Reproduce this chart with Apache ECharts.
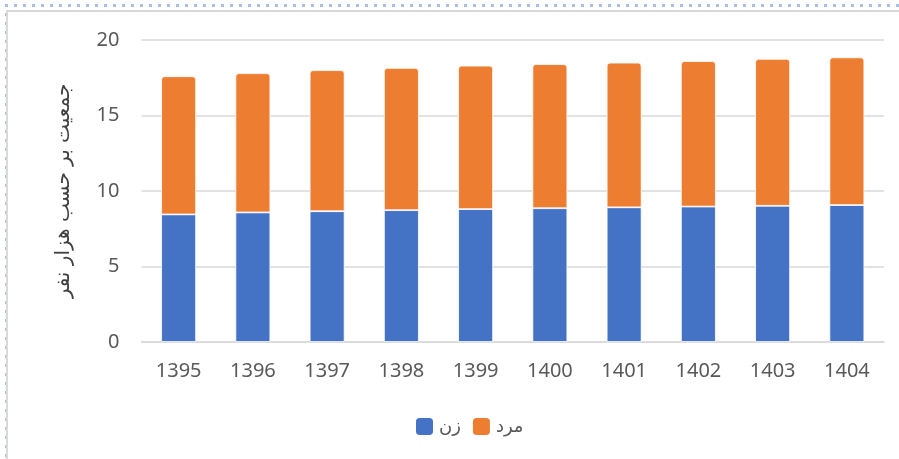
<!DOCTYPE html>
<html lang="fa">
<head>
<meta charset="UTF-8">
<title>جمعیت</title>
<script src="https://cdn.jsdelivr.net/npm/echarts@6/dist/echarts.min.js"></script>
<style>
    /* پس‌زمینه نقطه‌ای بیرون نمودار */
    body {
        margin: 0;
        padding: 0;
        width: 899px;
        height: 459px;
        overflow: hidden;
        background-color: #fff;
        background-image: radial-gradient(circle, #a9bfe6 1.6px, transparent 2px);
        background-size: 9px 9px;
        background-position: 2px 1px;
    }
    #chart {
        position: absolute;
        left: 6px;
        top: 10px;
        width: 893px;
        height: 449px;
        box-sizing: border-box;
        border-top: 2px solid #d9d9d9;
        border-left: 2px solid #d9d9d9;
        background: #fff;
    }
</style>
</head>
<body>
<div id="chart"></div>
<script>
// داده‌ها
var years = ['1395', '1396', '1397', '1398', '1399', '1400', '1401', '1402', '1403', '1404'];
var women = [8.45, 8.58, 8.66, 8.73, 8.8, 8.86, 8.92, 8.97, 9.02, 9.07];
var men = [9.15, 9.22, 9.34, 9.42, 9.5, 9.54, 9.58, 9.63, 9.73, 9.78];
var yTicks = [0, 5, 10, 15, 20];

var labelFont = '"Noto Sans", "DejaVu Sans", sans-serif';

var myChart = echarts.init(document.getElementById('chart'));

var option = {
    animation: false,
    grid: {
        left: 133.5,
        right: 15,
        top: 28,
        bottom: 117
    },
    legend: {
        bottom: 22,
        left: 406,
        padding: 0,
        itemWidth: 19,
        itemHeight: 19,
        itemGap: 10,
        icon: 'roundRect',
        textStyle: {
            fontFamily: labelFont,
            fontSize: 18,
            color: '#595959'
        },
        data: ['زن', 'مرد']
    },
    xAxis: {
        type: 'category',
        data: years,
        axisLine: { lineStyle: { color: '#d9d9d9', width: 1.5 } },
        axisTick: { show: false },
        axisLabel: {
            fontFamily: labelFont,
            fontSize: 20,
            color: '#595959',
            margin: 19
        }
    },
    yAxis: {
        type: 'value',
        min: yTicks[0],
        max: yTicks[yTicks.length - 1],
        interval: 5,
        name: 'جمعیت بر حسب هزار نفر',
        nameLocation: 'middle',
        nameGap: 68,
        nameTextStyle: {
            fontFamily: '"DejaVu Sans", sans-serif',
            fontSize: 20,
            color: '#404040'
        },
        axisLine: { show: false },
        axisTick: { show: false },
        splitLine: { lineStyle: { color: '#d9d9d9', width: 1.5 } },
        axisLabel: {
            fontFamily: labelFont,
            fontSize: 20,
            color: '#595959',
            margin: 22
        }
    },
    series: [
        {
            name: 'زن',
            type: 'bar',
            stack: 'total',
            barWidth: '47%',
            itemStyle: { color: '#4472c4', borderColor: '#fff', borderWidth: 0.8 },
            data: women
        },
        {
            name: 'مرد',
            type: 'bar',
            stack: 'total',
            barWidth: '47%',
            itemStyle: { color: '#ed7d31', borderColor: '#fff', borderWidth: 0.8, borderRadius: [3, 3, 0, 0] },
            data: men
        }
    ]
};

myChart.setOption(option);
</script>
</body>
</html>
